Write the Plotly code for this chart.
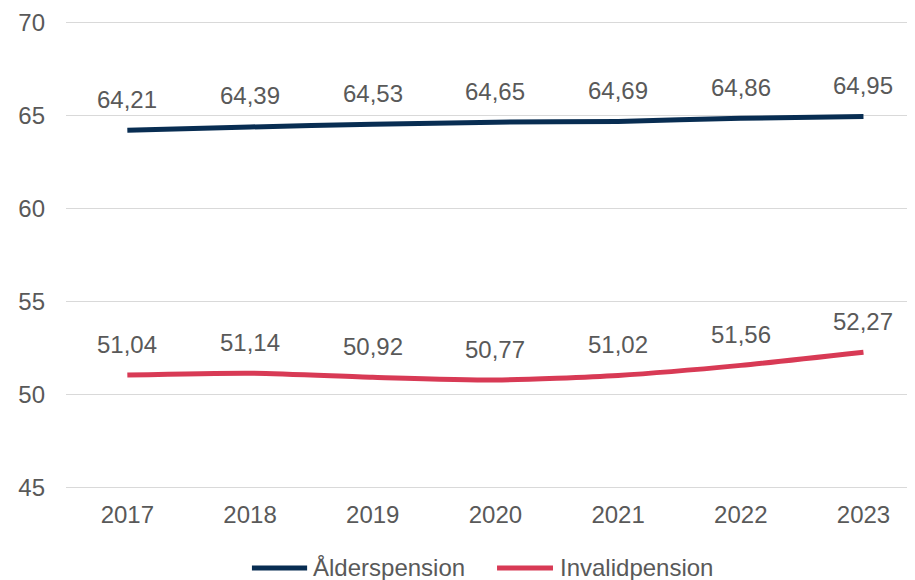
import plotly.graph_objects as go

years = ["2017", "2018", "2019", "2020", "2021", "2022", "2023"]
alder = [64.21, 64.39, 64.53, 64.65, 64.69, 64.86, 64.95]
invalid = [51.04, 51.14, 50.92, 50.77, 51.02, 51.56, 52.27]
y_ticks = [45, 50, 55, 60, 65, 70]
series_names = ["Ålderspension", "Invalidpension"]

FONT = "Liberation Sans, Arial, sans-serif"
GRAY = "#595959"
NAVY = "#082D52"
RED = "#D83A55"
FS = 24

def fmt(v):
    return f"{v:.2f}".replace(".", ",")

fig = go.Figure()
for name, vals, col in zip(series_names, (alder, invalid), (NAVY, RED)):
    fig.add_trace(go.Scatter(x=years, y=vals, mode="lines", name=name, showlegend=False,
                             line=dict(color=col, width=5, shape="spline", smoothing=0.6)))
    for i, v in enumerate(vals):
        fig.add_annotation(x=i, y=v, xref="x", yref="y", text=fmt(v), showarrow=False,
                           yshift=31, font=dict(family=FONT, size=FS, color=GRAY))

# manual legend (paper coordinates)
leg_y = -0.163
leg_items = [(0.219, 0.284, 0.289), (0.5077, 0.5736, 0.5795)]
for (x0, x1, xt), name, col in zip(leg_items, series_names, (NAVY, RED)):
    fig.add_shape(type="line", xref="paper", yref="paper", x0=x0, x1=x1, y0=leg_y, y1=leg_y,
                  line=dict(color=col, width=5))
    fig.add_annotation(xref="paper", yref="paper", x=xt, y=leg_y, xanchor="left",
                       yanchor="middle", text=name, showarrow=False,
                       font=dict(family=FONT, size=FS, color=GRAY))

fig.update_layout(
    width=915, height=580,
    margin=dict(l=58, r=8, t=11, b=96.6, autoexpand=False),
    paper_bgcolor="white", plot_bgcolor="white",
    font=dict(family=FONT, size=FS, color=GRAY),
    showlegend=False,
    xaxis=dict(type="category", range=[-0.5, 6.42], showgrid=False, showline=False,
               zeroline=False, ticks="", tickfont=dict(size=FS, color=GRAY),
               ticklabelstandoff=7, automargin=False),
    yaxis=dict(range=[44.8, 70.2], tickvals=y_ticks, showgrid=True, gridcolor="#D9D9D9",
               gridwidth=1.3, zeroline=False, showline=False, ticks="",
               tickfont=dict(size=FS, color=GRAY), ticklabelstandoff=20, automargin=False),
)

fig.write_html("out.html")
